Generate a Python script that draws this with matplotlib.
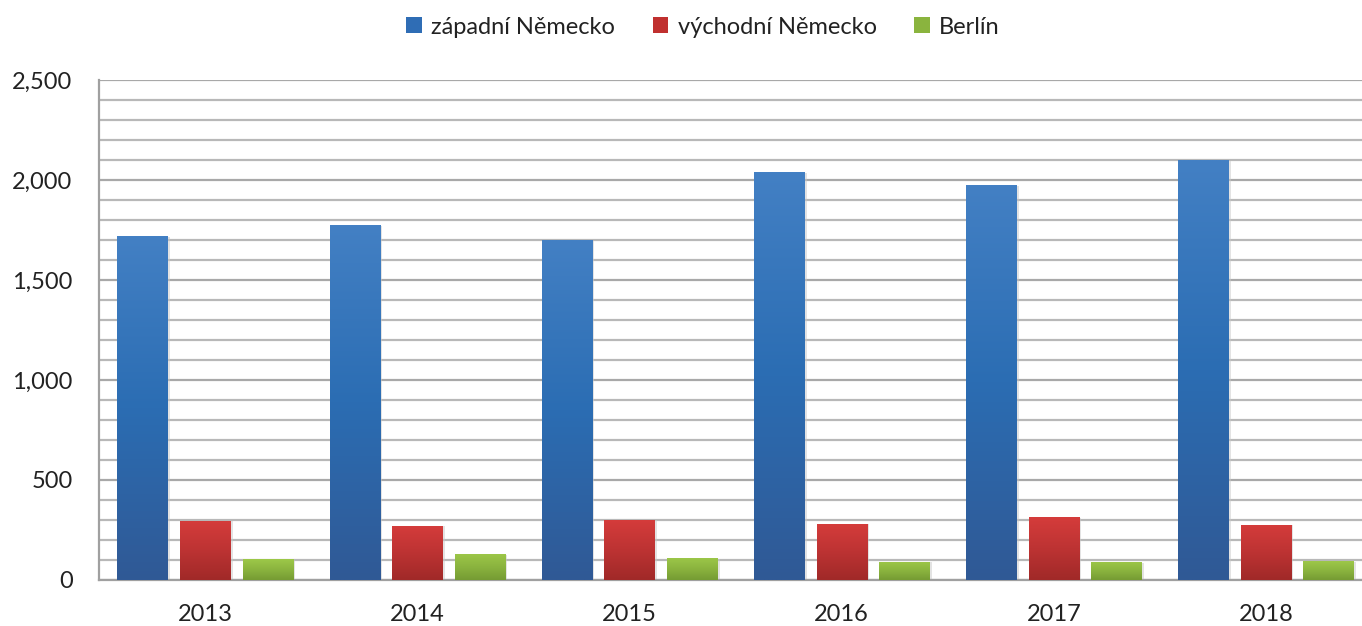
import numpy as np
import matplotlib
matplotlib.use("Agg")
import matplotlib.pyplot as plt
from matplotlib.colors import LinearSegmentedColormap
from matplotlib.patches import Patch

plt.rcParams['font.family'] = ['Lato', 'DejaVu Sans']

years = ["2013", "2014", "2015", "2016", "2017", "2018"]
series_names = ["západní Německo", "východní Německo", "Berlín"]
west = [1718, 1775, 1700, 2040, 1973, 2098]
east = [297, 272, 302, 282, 313, 277]
berlin = [104, 131, 111, 92, 91, 94]
yticks = [0, 500, 1000, 1500, 2000, 2500]
ytick_labels = ["0", "500", "1,000", "1,500", "2,000", "2,500"]

# gradient colours (top, middle, bottom)
grads = [
    ["#4380C4", "#2B6DB3", "#305995"],
    ["#D53C3B", "#BD3333", "#A02928"],
    ["#9DC849", "#8BB43F", "#759B33"],
]
legend_colors = ["#2F6DB5", "#C0302F", "#8AB43E"]

W, H = 1362, 626
fig = plt.figure(figsize=(W / 100, H / 100), dpi=100)
ax = fig.add_axes([99 / W, 46 / H, 1273 / W, 500 / H])

x = np.arange(len(years))
bw = 0.236
off = 0.295
data = [west, east, berlin]
for i, (vals, g) in enumerate(zip(data, grads)):
    bars = ax.bar(x + (i - 1) * off, vals, width=bw, color=legend_colors[i],
                  zorder=3, linewidth=0)
    cmap = LinearSegmentedColormap.from_list(f"g{i}", g[::-1])
    grad = np.linspace(0, 1, 256).reshape(-1, 1)
    for b in bars:
        bx, by = b.get_x(), b.get_y()
        bwid, bh = b.get_width(), b.get_height()
        # shadow
        ax.bar(bx + bwid / 2 + 0.012, bh, width=bwid, bottom=by - 4,
               color="#c8c8c8", alpha=0.5, zorder=2.5, linewidth=0)
        im = ax.imshow(grad, extent=[bx, bx + bwid, by, by + bh], origin="lower",
                       cmap=cmap, aspect="auto", zorder=3.5,
                       interpolation="bilinear")
        im.set_clip_path(b)

ax.set_xlim(-0.5, len(years) - 0.5)
ax.set_ylim(0, 2500)
ax.set_yticks(yticks)
ax.set_yticklabels(ytick_labels)
ax.set_yticks(np.arange(0, 2501, 100), minor=True)
ax.set_xticks(x)
ax.set_xticklabels(years)
ax.grid(axis="y", which="minor", color="#B8B8B8", linewidth=1.6, zorder=0)
ax.grid(axis="y", which="major", color="#A8A8A8", linewidth=1.6, zorder=0)
ax.tick_params(axis="both", which="both", length=0, labelsize=17, colors="#222222")
ax.tick_params(axis="y", pad=19)
ax.tick_params(axis="x", pad=17)
for s in ["top", "right"]:
    ax.spines[s].set_visible(False)
ax.spines["left"].set_color("#A0A0A0")
ax.spines["left"].set_linewidth(1.6)
ax.spines["bottom"].set_color("#A0A0A0")
ax.spines["bottom"].set_linewidth(1.6)

handles = [Patch(facecolor=c, edgecolor="none") for c in legend_colors]
fig.legend(handles, series_names, loc="center", bbox_to_anchor=(703 / W, 1 - 27 / H),
           ncol=3, frameon=False, fontsize=17, handlelength=0.65, handleheight=0.65,
           handletextpad=0.4, columnspacing=1.6, labelcolor="#222222")

fig.savefig("out.png", dpi=100)
